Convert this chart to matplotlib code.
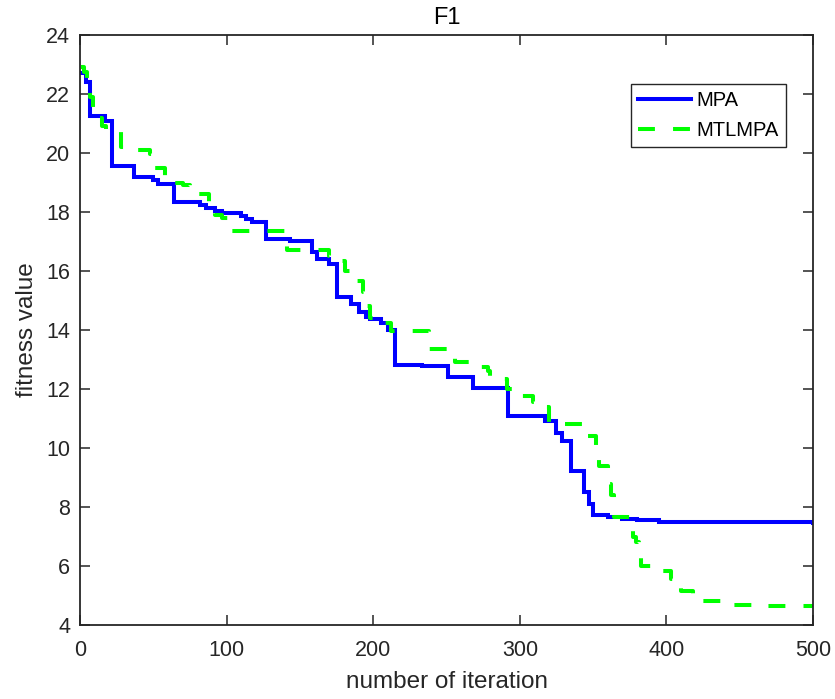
import matplotlib
matplotlib.use("Agg")
import matplotlib.pyplot as plt

# ---- data (step breakpoints: iteration, fitness value) ----
mpa_iter = [1, 4, 7, 17, 22, 37, 50, 53, 64, 82, 86, 92, 97, 110, 113, 117, 127, 143,
            158, 162, 170, 175, 185, 190, 195, 198, 205, 210, 215, 233, 251, 268, 292,
            317, 325, 329, 335, 344, 347, 350, 360, 370, 380, 395, 430, 500]
mpa_val = [22.7, 22.4, 21.25, 21.1, 19.57, 19.2, 19.1, 18.95, 18.33, 18.25, 18.15, 18.05,
           17.97, 17.88, 17.75, 17.66, 17.07, 17.02, 16.64, 16.4, 16.25, 15.12, 14.88, 14.6,
           14.45, 14.37, 14.25, 14.0, 12.81, 12.77, 12.42, 12.03, 11.08, 10.9, 10.5, 10.25,
           9.23, 8.52, 8.1, 7.73, 7.65, 7.6, 7.55, 7.5, 7.48, 7.47]

mtl_iter = [1, 3, 5, 7, 9, 12, 15, 18, 28, 33, 48, 51, 58, 61, 64, 70, 75, 88, 92, 97,
            104, 141, 170, 174, 181, 185, 188, 193, 195, 198, 207, 212, 238, 256, 268, 278,
            280, 291, 296, 300, 309, 316, 320, 344, 346, 352, 354, 360, 362, 364, 376, 377,
            379, 381, 383, 390, 393, 403, 407, 410, 418, 440, 462, 480, 500]
mtl_val = [22.9, 22.75, 22.3, 21.9, 21.5, 21.2, 20.9, 20.7, 20.2, 20.1, 19.95, 19.5, 19.2,
           19.1, 19.0, 18.9, 18.6, 18.05, 17.9, 17.8, 17.35, 16.7, 16.5, 16.35, 16.0, 15.8,
           15.67, 15.3, 14.8, 14.4, 14.25, 13.98, 13.36, 12.9, 12.75, 12.6, 12.34, 12.0,
           11.85, 11.75, 11.56, 11.4, 10.8, 10.7, 10.4, 9.8, 9.4, 8.78, 8.4, 7.66, 7.2, 7.0,
           6.8, 6.6, 6.0, 5.9, 5.84, 5.55, 5.3, 5.16, 4.82, 4.69, 4.65, 4.63, 4.62]

series_names = ["MPA", "MTLMPA"]
x_ticks = [0, 100, 200, 300, 400, 500]
y_ticks = [4, 6, 8, 10, 12, 14, 16, 18, 20, 22, 24]

plt.rcParams['font.family'] = ['Liberation Sans', 'DejaVu Sans']
axc = '#262626'

fig = plt.figure(figsize=(8.35, 6.99), dpi=100)
ax = fig.add_axes([80/835, 1-625/699, 733/835, 590/699])

ax.step(mpa_iter, mpa_val, where='post', color='#0000ff', lw=2.9,
        label=series_names[0], solid_joinstyle='miter')
ax.step(mtl_iter, mtl_val, where='post', color='#00ff00', lw=2.9,
        linestyle=(0, (4.2, 4.5)), label=series_names[1])

ax.set_xlim(0, 500)
ax.set_ylim(4, 24)
ax.set_xticks(x_ticks)
ax.set_yticks(y_ticks)
ax.tick_params(direction='in', length=7, width=1.1, top=True, right=True,
               labelsize=15.5, colors=axc)
ax.tick_params(axis='x', pad=11)
ax.tick_params(axis='y', pad=7)
for s in ax.spines.values():
    s.set_linewidth(1.3)
    s.set_color(axc)

ax.set_title('F1', fontsize=17, color='black', pad=8)
ax.set_xlabel('number of iteration', fontsize=17.5, color=axc, labelpad=7)
ax.set_ylabel('fitness value', fontsize=17.5, color=axc, labelpad=6)

leg = ax.legend(loc='upper right', bbox_to_anchor=(0.963, 0.917), fontsize=14.5,
                frameon=True, fancybox=False, framealpha=1, edgecolor=axc,
                handlelength=2.6, borderpad=0.35, labelspacing=0.55, handletextpad=0.3,
                borderaxespad=0)
leg.get_frame().set_linewidth(1.0)

fig.savefig('out.png', dpi=100)
